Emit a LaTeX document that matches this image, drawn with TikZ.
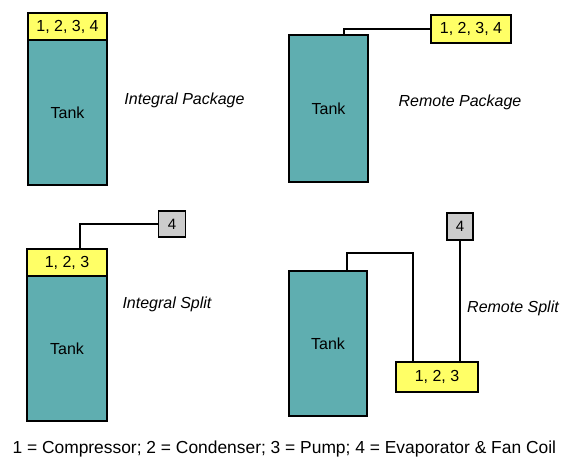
\documentclass[tikz,border=0pt]{standalone}
\usepackage{fontspec}
\setmainfont{Liberation Sans}
\usetikzlibrary{calc}

\definecolor{tankteal}{RGB}{95,174,176}
\definecolor{unityellow}{RGB}{255,255,102}
\definecolor{coilgray}{RGB}{204,204,204}

\begin{document}
\begin{tikzpicture}[x=1pt,y=-1pt,
  tank/.style={draw,line width=1.5pt,fill=tankteal,minimum width=79pt,minimum height=145pt,inner sep=0pt,font=\fontsize{16}{19}\selectfont},
  unit/.style={draw,line width=1.5pt,fill=unityellow,minimum height=27pt,inner sep=0pt,font=\fontsize{16}{19}\selectfont},
  coil/.style={draw,line width=1.5pt,fill=coilgray,minimum width=27pt,minimum height=26pt,inner sep=0pt,font=\fontsize{15}{18}\selectfont},
  pipe/.style={line width=1.5pt},
  caption/.style={font=\fontsize{16}{19}\selectfont\itshape}]
\useasboundingbox (0,0) rectangle (563,459);

% integral package
\node[tank] (tank1) at (67.5,112.5) {Tank};
\node[unit,minimum width=79pt] (unit1) at (67.5,26.5) {1, 2, 3, 4};
\node[caption] (cap1) at (184.5,100) {Integral Package};

% remote package
\node[tank,minimum height=147pt] (tank2) at (328.5,108.5) {Tank};
\node[unit,minimum width=80pt,minimum height=28pt] (unit2) at (471,29) {1, 2, 3, 4};
\draw[pipe] ([xshift=15.5pt]tank2.north) |- (unit2.west);
\node[caption] (cap2) at (460,102) {Remote Package};

% integral split
\node[unit,minimum width=80pt] (unit3) at (67,262.5) {1, 2, 3};
\node[tank,minimum width=80pt] (tank3) at (67,348.5) {Tank};
\node[coil] (coil3) at (172,224) {4};
\draw[pipe] ([xshift=13pt]unit3.north) |- (coil3.west);
\node[caption] (cap3) at (167,304) {Integral Split};

% remote split
\node[tank,minimum width=78pt] (tank4) at (328,343.5) {Tank};
\node[unit,minimum width=82pt,minimum height=30pt] (unit4) at (437,377) {1, 2, 3};
\node[coil,minimum width=26pt,minimum height=27pt] (coil4) at (460,226.5) {4};
\coordinate (bend4) at (413,253);
\draw[pipe] ([xshift=19pt]tank4.north) |- (bend4) -- (bend4 |- unit4.north);
\draw[pipe] (coil4.south) -- (coil4.south |- unit4.north);
\node[caption] (cap4) at (513,308) {Remote Split};

\node[anchor=west,font=\fontsize{17.4}{20}\selectfont] (legend) at (9,449) {1 = Compressor; 2 = Condenser; 3 = Pump; 4 = Evaporator \& Fan Coil};
\end{tikzpicture}
\end{document}
